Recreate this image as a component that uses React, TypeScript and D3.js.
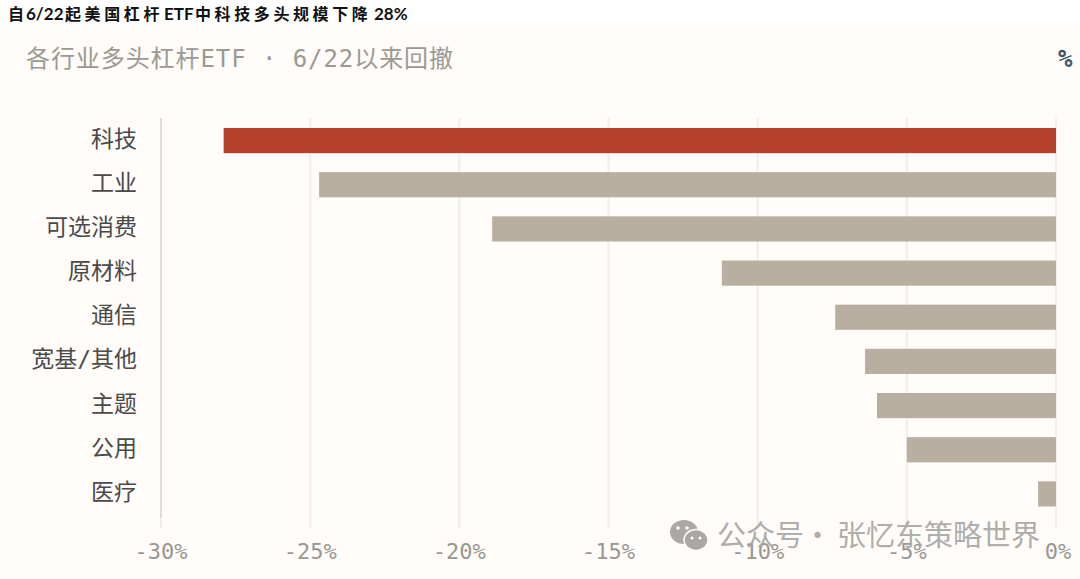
import * as d3 from "d3";

const categories = ["科技", "工业", "可选消费", "原材料", "通信", "宽基/其他", "主题", "公用", "医疗"];
const drawdowns = [-27.9, -24.7, -18.9, -11.2, -7.4, -6.4, -6.0, -5.0, -0.6];
const ticks = [-30, -25, -20, -15, -10, -5, 0];

const cjk = '"Noto Sans CJK SC", sans-serif';
const mono = '"DejaVu Sans Mono", "Noto Sans CJK SC", monospace';
const titleFont = 'Lato, "Noto Sans CJK SC", sans-serif';

export default function App() {
  const width = 1080;
  const height = 579;
  const paper = "#fffcf9";
  const x = d3.scaleLinear().domain([-30, 0]).range([161, 1056]);
  const y = d3.scaleBand().domain(categories).range([118.5, 516]).paddingInner(0.43).paddingOuter(0.215);

  return (
    <svg
      width={width}
      height={height}
      viewBox={`0 0 ${width} ${height}`}
      style={{ position: "absolute", left: 0, top: 0, display: "block" }}
    >
      <rect width={width} height={height} fill="#ffffff" />
      <rect y={24} width={width} height={height - 24} fill={paper} />

      <text y={20} fontSize={16} fontWeight={700} fill="#111" fontFamily={titleFont}>
        <tspan x={8}>自</tspan>
        <tspan x={26} fontSize={17}>6/22</tspan>
        <tspan x={65} letterSpacing={3.6}>起美国杠杆</tspan>
        <tspan x={164} fontSize={17}>ETF</tspan>
        <tspan x={195} letterSpacing={3.6}>中科技多头规模下降</tspan>
        <tspan x={374} fontSize={17}>28%</tspan>
      </text>
      <text
        x={26}
        y={67}
        fontSize={24}
        fill="#9a9a92"
        textLength={427}
        lengthAdjust="spacing"
        fontFamily={mono}
      >
        各行业多头杠杆ETF · 6/22以来回撤
      </text>
      <text x={1058} y={67} fontSize={24} fontWeight={700} fill="#3f5668" fontFamily={mono}>
        %
      </text>

      {ticks.map((tick) => (
        <g key={tick}>
          <line x1={x(tick)} x2={x(tick)} y1={118} y2={528} stroke="#f1eeea" strokeWidth={2} />
          {tick === -30 && (
            <line x1={x(tick)} x2={x(tick)} y1={118} y2={518} stroke="#e0ddd8" strokeWidth={2} />
          )}
          <text
            x={tick === 0 ? x(tick) + 2 : x(tick)}
            y={559}
            textAnchor="middle"
            fontSize={22}
            fill="#979791"
            fontFamily={mono}
          >
            {`${tick}%`}
          </text>
        </g>
      ))}

      {categories.map((name, i) => (
        <g key={name}>
          <rect
            x={x(drawdowns[i])}
            y={y(name)}
            width={x(0) - x(drawdowns[i])}
            height={y.bandwidth()}
            fill={i === 0 ? "#b5412c" : "#b9afa0"}
          />
          <text
            x={137}
            y={(y(name) ?? 0) + y.bandwidth() / 2 + 6}
            textAnchor="end"
            fontSize={23}
            fill="#4a4a4a"
            fontFamily={mono}
          >
            {name}
          </text>
        </g>
      ))}

      <g fill="#a9a8a5">
        <ellipse cx={684} cy={532} rx={14} ry={12} />
        <ellipse cx={696} cy={540} rx={12} ry={10.5} stroke={paper} strokeWidth={1.5} />
      </g>
      <g fill={paper}>
        <circle cx={678} cy={528} r={1.8} />
        <circle cx={687} cy={528} r={1.8} />
        <circle cx={692} cy={538} r={1.5} />
        <circle cx={700} cy={538} r={1.5} />
      </g>
      <text y={546} fontSize={29} fill="#a3a3a1" fillOpacity={0.9} fontFamily={cjk}>
        <tspan x={717}>公众号</tspan>
        <tspan x={803}>·</tspan>
        <tspan x={837}>张忆东策略世界</tspan>
      </text>
    </svg>
  );
}
